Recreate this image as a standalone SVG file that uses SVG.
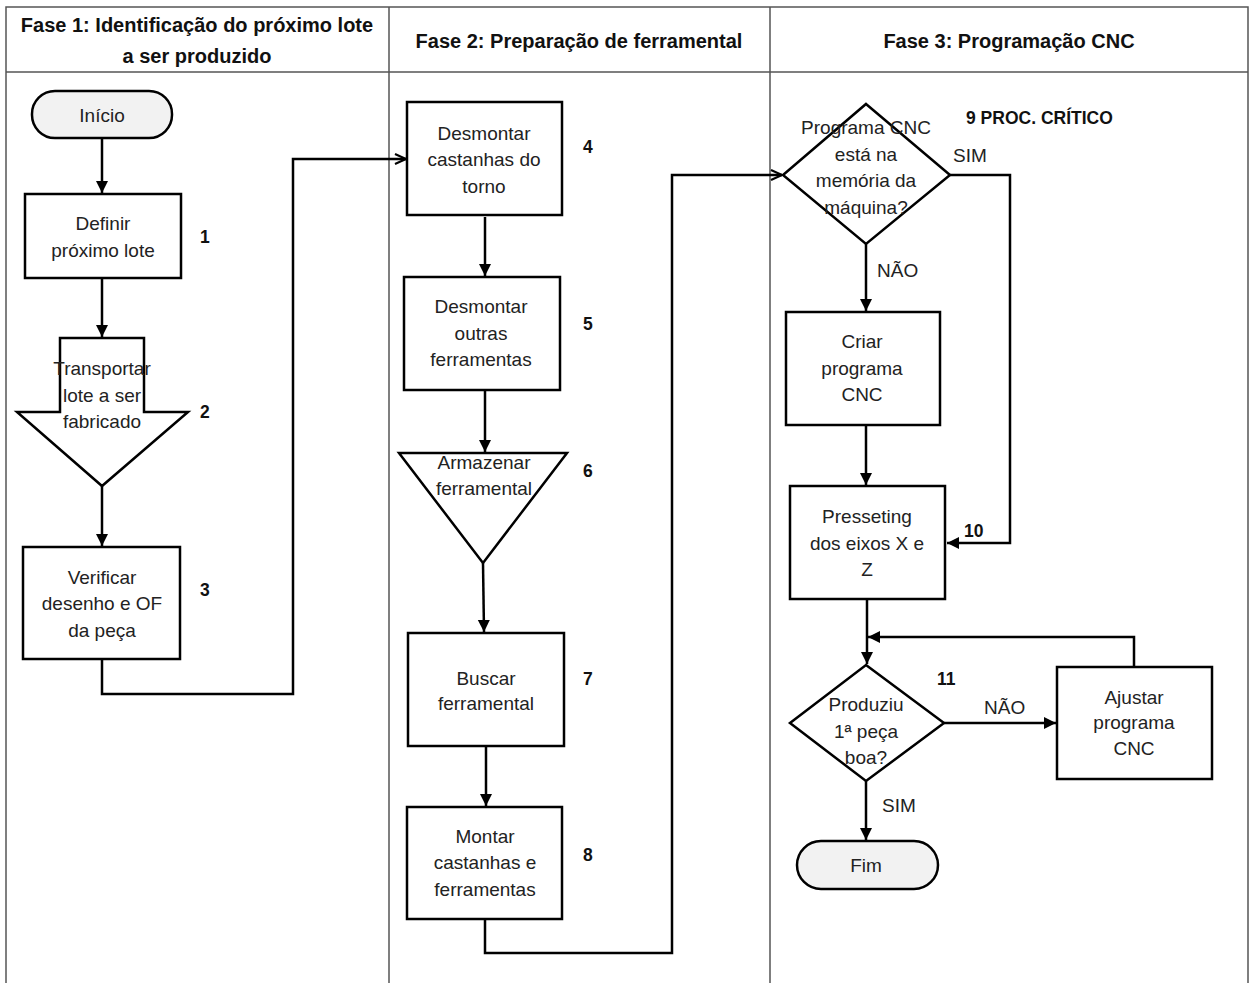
<svg xmlns="http://www.w3.org/2000/svg" width="1252" height="983" viewBox="0 0 1252 983">
<defs>
<style>
.grid{fill:none;stroke:#555;stroke-width:1.5}
.hd{font-family:"Liberation Sans",Arial,sans-serif;font-weight:bold;font-size:20px;fill:#111;text-anchor:middle}
.box{fill:#fff;stroke:#000;stroke-width:2.5}
.term{fill:#f2f2f2;stroke:#000;stroke-width:2.5}
.t{font-family:"Liberation Sans",Arial,sans-serif;font-size:19px;fill:#222;text-anchor:middle}
.n{font-family:"Liberation Sans",Arial,sans-serif;font-weight:bold;font-size:17.5px;fill:#111}
.lbl{font-family:"Liberation Sans",Arial,sans-serif;font-size:19px;fill:#222}
.c{fill:none;stroke:#000;stroke-width:2.5}
</style>
<marker id="af" markerUnits="userSpaceOnUse" markerWidth="14" markerHeight="14" refX="12" refY="6" orient="auto" viewBox="0 0 14 12">
<path d="M0,0 L12,6 L0,12 z" fill="#000"/>
</marker>
<marker id="ao" markerUnits="userSpaceOnUse" markerWidth="14" markerHeight="14" refX="12" refY="6" orient="auto" viewBox="0 0 14 12">
<path d="M1,1 L12,6 L1,11" fill="none" stroke="#000" stroke-width="2.2"/>
</marker>
</defs>
<rect width="1252" height="983" fill="#fff"/>
<g id="table">
<rect class="grid" x="6" y="7" width="1242" height="990"/>
<line class="grid" x1="6" y1="72" x2="1248" y2="72"/>
<line class="grid" x1="389" y1="7" x2="389" y2="983"/>
<line class="grid" x1="770" y1="7" x2="770" y2="983"/>
<text class="hd" x="197" y="32">Fase 1: Identificação do próximo lote</text>
<text class="hd" x="197" y="63">a ser produzido</text>
<text class="hd" x="579" y="48">Fase 2: Preparação de ferramental</text>
<text class="hd" x="1009" y="48">Fase 3: Programação CNC</text>
</g>
<g id="connectors">
<line class="c" x1="102" y1="138" x2="102" y2="193" marker-end="url(#af)"/>
<line class="c" x1="102" y1="278" x2="102" y2="337" marker-end="url(#af)"/>
<line class="c" x1="102" y1="486" x2="102" y2="546" marker-end="url(#af)"/>
<polyline class="c" points="102,659 102,694 293,694 293,159 406,159" marker-end="url(#ao)"/>
<line class="c" x1="485" y1="217" x2="485" y2="276" marker-end="url(#af)"/>
<line class="c" x1="485" y1="390" x2="485" y2="452" marker-end="url(#af)"/>
<line class="c" x1="483" y1="563" x2="484" y2="632" marker-end="url(#af)"/>
<line class="c" x1="486" y1="746" x2="486" y2="806" marker-end="url(#af)"/>
<polyline class="c" points="485,919 485,953 672,953 672,175 782,175" marker-end="url(#ao)"/>
<polyline class="c" points="950,175 1010,175 1010,543 947,543" marker-end="url(#af)"/>
<line class="c" x1="866" y1="244" x2="866" y2="311" marker-end="url(#af)"/>
<line class="c" x1="866" y1="425" x2="866" y2="485" marker-end="url(#af)"/>
<line class="c" x1="867" y1="599" x2="867" y2="664" marker-end="url(#af)"/>
<polyline class="c" points="1134,666 1134,637 868,637" marker-end="url(#af)"/>
<line class="c" x1="944" y1="723" x2="1056" y2="723" marker-end="url(#af)"/>
<line class="c" x1="866" y1="781" x2="866" y2="840" marker-end="url(#af)"/>
<text class="lbl" x="953" y="162">SIM</text>
<text class="n" x="964" y="537">10</text>
<text class="lbl" x="877" y="277">NÃO</text>
<text class="lbl" x="984" y="714">NÃO</text>
<text class="lbl" x="882" y="812">SIM</text>
</g>
<g id="inicio">
<rect class="term" x="32" y="91" width="140" height="47" rx="23" ry="23"/>
<text class="t" x="102" y="122">Início</text>
</g>
<g id="n1">
<rect class="box" x="25" y="194" width="156" height="84"/>
<text class="t" x="103" y="230">Definir</text>
<text class="t" x="103" y="257">próximo lote</text>
<text class="n" x="200" y="243">1</text>
</g>
<g id="n2">
<path class="box" d="M60,338 L144,338 L144,412 L188,412 L102,486 L17,412 L60,412 z"/>
<text class="t" x="102" y="375">Transportar</text>
<text class="t" x="102" y="402">lote a ser</text>
<text class="t" x="102" y="428">fabricado</text>
<text class="n" x="200" y="418">2</text>
</g>
<g id="n3">
<rect class="box" x="23" y="547" width="157" height="112"/>
<text class="t" x="102" y="584">Verificar</text>
<text class="t" x="102" y="610">desenho e OF</text>
<text class="t" x="102" y="637">da peça</text>
<text class="n" x="200" y="596">3</text>
</g>
<g id="n4">
<rect class="box" x="407" y="102" width="155" height="113"/>
<text class="t" x="484" y="140">Desmontar</text>
<text class="t" x="484" y="166">castanhas do</text>
<text class="t" x="484" y="193">torno</text>
<text class="n" x="583" y="153">4</text>
</g>
<g id="n5">
<rect class="box" x="404" y="277" width="156" height="113"/>
<text class="t" x="481" y="313">Desmontar</text>
<text class="t" x="481" y="340">outras</text>
<text class="t" x="481" y="366">ferramentas</text>
<text class="n" x="583" y="330">5</text>
</g>
<g id="n6">
<path class="box" d="M399,453 L567,453 L483,563 z"/>
<text class="t" x="484" y="469">Armazenar</text>
<text class="t" x="484" y="495">ferramental</text>
<text class="n" x="583" y="477">6</text>
</g>
<g id="n7">
<rect class="box" x="408" y="633" width="156" height="113"/>
<text class="t" x="486" y="685">Buscar</text>
<text class="t" x="486" y="710">ferramental</text>
<text class="n" x="583" y="685">7</text>
</g>
<g id="n8">
<rect class="box" x="407" y="807" width="155" height="112"/>
<text class="t" x="485" y="843">Montar</text>
<text class="t" x="485" y="869">castanhas e</text>
<text class="t" x="485" y="896">ferramentas</text>
<text class="n" x="583" y="861">8</text>
</g>
<g id="n9">
<path class="box" d="M866,104 L950,175 L866,244 L783,175 z"/>
<text class="t" x="866" y="134">Programa CNC</text>
<text class="t" x="866" y="161">está na</text>
<text class="t" x="866" y="187">memória da</text>
<text class="t" x="866" y="214">máquina?</text>
<text class="n" x="966" y="124">9 PROC. CRÍTICO</text>
</g>
<g id="criar">
<rect class="box" x="786" y="312" width="154" height="113"/>
<text class="t" x="862" y="348">Criar</text>
<text class="t" x="862" y="375">programa</text>
<text class="t" x="862" y="401">CNC</text>
</g>
<g id="n10">
<rect class="box" x="790" y="486" width="155" height="113"/>
<text class="t" x="867" y="523">Presseting</text>
<text class="t" x="867" y="550">dos eixos X e</text>
<text class="t" x="867" y="576">Z</text>
</g>
<g id="n11">
<path class="box" d="M866,665 L944,723 L866,781 L790,723 z"/>
<text class="t" x="866" y="711">Produziu</text>
<text class="t" x="866" y="738">1ª peça</text>
<text class="t" x="866" y="764">boa?</text>
<text class="n" x="937" y="685">11</text>
</g>
<g id="ajustar">
<rect class="box" x="1057" y="667" width="155" height="112"/>
<text class="t" x="1134" y="704">Ajustar</text>
<text class="t" x="1134" y="729">programa</text>
<text class="t" x="1134" y="755">CNC</text>
</g>
<g id="fim">
<rect class="term" x="797" y="841" width="141" height="48" rx="24" ry="24"/>
<text class="t" x="866" y="872">Fim</text>
</g>
</svg>
